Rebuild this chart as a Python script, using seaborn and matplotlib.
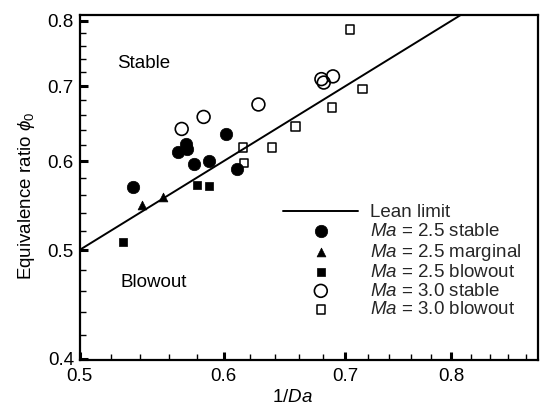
import matplotlib
matplotlib.use("Agg")
import matplotlib.pyplot as plt
import seaborn as sns
from matplotlib.ticker import FixedLocator, FixedFormatter, NullFormatter

# ── data ──
lean_x = [0.5, 0.81]
lean_y = [0.5, 0.81]

ma25_stable_x = [0.535, 0.566, 0.572, 0.573, 0.578, 0.589, 0.602, 0.610]
ma25_stable_y = [0.569, 0.612, 0.621, 0.615, 0.597, 0.600, 0.635, 0.591]

ma25_marginal_x = [0.541, 0.556]
ma25_marginal_y = [0.548, 0.558]

ma25_blowout_x = [0.528, 0.580, 0.589]
ma25_blowout_y = [0.508, 0.571, 0.570]

ma30_stable_x = [0.569, 0.585, 0.627, 0.679, 0.681, 0.689]
ma30_stable_y = [0.641, 0.657, 0.674, 0.710, 0.705, 0.714]

ma30_blowout_x = [0.615, 0.6155, 0.638, 0.657, 0.688, 0.715, 0.704]
ma30_blowout_y = [0.617, 0.598, 0.617, 0.644, 0.670, 0.696, 0.786]

x_major = [0.5, 0.6, 0.7, 0.8]
y_major = [0.4, 0.5, 0.6, 0.7, 0.8]
x_minor = [round(0.5 + 0.02 * i, 2) for i in range(20)]
y_minor = [round(0.4 + 0.02 * i, 2) for i in range(21)]

# ── style ──
sns.set_theme(style="white")
plt.rcParams["font.family"] = ["Liberation Sans", "DejaVu Sans"]
plt.rcParams["mathtext.fontset"] = "custom"
plt.rcParams["mathtext.rm"] = "Liberation Sans"
plt.rcParams["mathtext.it"] = "Liberation Sans:italic"
FS = 13.5

fig = plt.figure(figsize=(5.4, 4.05), dpi=100)
ax = fig.add_axes([79.5 / 540, 1 - 360 / 405, 458.5 / 540, 344.5 / 405])

sns.lineplot(x=lean_x, y=lean_y, color="black", linewidth=1.4,
             label="Lean limit", ax=ax)
sns.scatterplot(x=ma25_stable_x, y=ma25_stable_y, marker="o", s=80,
                color="black", edgecolor="black", linewidth=0.5,
                label="$\\mathit{Ma}$ = 2.5 stable", ax=ax, zorder=3)
sns.scatterplot(x=ma25_marginal_x, y=ma25_marginal_y, marker="^", s=40,
                color="black", edgecolor="black", linewidth=0.5,
                label="$\\mathit{Ma}$ = 2.5 marginal", ax=ax, zorder=3)
sns.scatterplot(x=ma25_blowout_x, y=ma25_blowout_y, marker="s", s=28,
                color="black", edgecolor="black", linewidth=0.5,
                label="$\\mathit{Ma}$ = 2.5 blowout", ax=ax, zorder=3)
sns.scatterplot(x=ma30_stable_x, y=ma30_stable_y, marker="o", s=85,
                facecolor="none", edgecolor="black", linewidth=1.2,
                label="$\\mathit{Ma}$ = 3.0 stable", ax=ax, zorder=3)
sns.scatterplot(x=ma30_blowout_x, y=ma30_blowout_y, marker="s", s=38,
                facecolor="none", edgecolor="black", linewidth=1.1,
                label="$\\mathit{Ma}$ = 3.0 blowout", ax=ax, zorder=3)

ax.set_xscale("log")
ax.set_yscale("log")
ax.set_xlim(0.5, 0.893)
ax.set_ylim(0.399, 0.809)

ax.xaxis.set_major_locator(FixedLocator(x_major))
ax.xaxis.set_major_formatter(FixedFormatter([f"{v:.1f}" for v in x_major]))
ax.xaxis.set_minor_locator(FixedLocator(x_minor))
ax.xaxis.set_minor_formatter(NullFormatter())
ax.yaxis.set_major_locator(FixedLocator(y_major))
ax.yaxis.set_major_formatter(FixedFormatter([f"{v:.1f}" for v in y_major]))
ax.yaxis.set_minor_locator(FixedLocator(y_minor))
ax.yaxis.set_minor_formatter(NullFormatter())

ax.tick_params(which="major", direction="in", length=6, width=2.2,
               labelsize=FS, pad=4, color="black", labelcolor="black",
               bottom=True, left=True, top=False, right=False)
ax.tick_params(which="minor", direction="in", length=4, width=1.0,
               color="black", bottom=True, left=True, top=False, right=False)
ax.tick_params(axis="x", which="major", pad=6)

for sp in ax.spines.values():
    sp.set_color("black")
    sp.set_linewidth(1.6)

ax.set_xlabel("1/$\\mathit{Da}$", fontsize=FS, color="black")
ax.set_ylabel("Equivalence ratio $\\phi_0$", fontsize=FS, color="black")
ax.xaxis.set_label_coords(0.4635, -0.084)
ax.yaxis.set_label_coords(-0.093, 0.476)

ax.text(0.0811, 0.8467, "Stable", transform=ax.transAxes, fontsize=FS,
        ha="left", va="baseline", color="black")
ax.text(0.0899, 0.211, "Blowout", transform=ax.transAxes, fontsize=FS,
        ha="left", va="baseline", color="black")

ax.legend(loc="upper left", bbox_to_anchor=(0.4445, 0.452), frameon=False,
          fontsize=FS, borderpad=0, borderaxespad=0, labelspacing=0.08,
          handlelength=4.0, handletextpad=0.6, scatterpoints=1)

fig.savefig("out.png", dpi=100)
